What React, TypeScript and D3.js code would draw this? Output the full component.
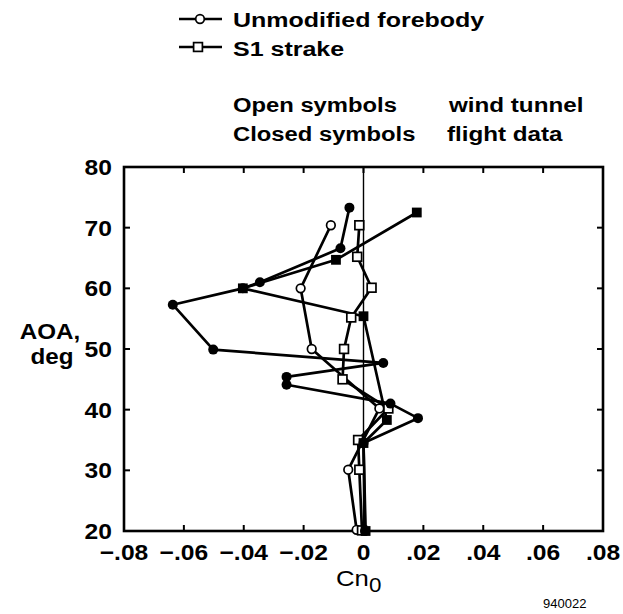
import React from "react";
import * as d3 from "d3";

// Yawing moment coefficient Cn0 versus angle of attack (deg)
type Pt = [number, number];

const unmodifiedFlight: Pt[] = [
  [-0.0047, 73.3], [-0.0077, 66.6], [-0.0346, 61.0], [-0.0403, 60.0],
  [-0.0637, 57.3], [-0.0502, 49.9], [0.0066, 47.7], [-0.0257, 45.4],
  [-0.0257, 44.1], [0.009, 41.0], [0.0182, 38.6], [0.0, 34.5], [0.0005, 20.0],
];
const strakeFlight: Pt[] = [
  [0.0178, 72.5], [-0.0092, 64.7], [-0.0403, 60.0], [0.0, 55.4],
  [0.0078, 38.3], [0.0, 34.5], [0.0007, 20.0],
];
const unmodifiedTunnel: Pt[] = [
  [-0.0109, 70.4], [-0.021, 60.0], [-0.0173, 50.0], [0.0053, 40.2],
  [-0.0051, 30.1], [-0.0023, 20.2],
];
const strakeTunnel: Pt[] = [
  [-0.0014, 70.4], [-0.0021, 65.2], [0.0027, 60.1], [-0.0041, 55.2],
  [-0.0065, 50.0], [-0.007, 45.0], [0.0083, 40.2], [-0.0018, 35.0],
  [-0.0014, 30.1], [-0.0005, 20.1],
];

const xTicks = [-0.08, -0.06, -0.04, -0.02, 0, 0.02, 0.04, 0.06, 0.08];
const xTickLabels = ["\u2212.08", "\u2212.06", "\u2212.04", "\u2212.02", "0", ".02", ".04", ".06", ".08"];
const yTicks = [20, 30, 40, 50, 60, 70, 80];

const FONT = "'Liberation Sans', Arial, Helvetica, sans-serif";

const x = d3.scaleLinear().domain([-0.08, 0.08]).range([124, 603]);
const y = d3.scaleLinear().domain([20, 80]).range([531, 167]);
const line = d3.line<Pt>().x((d) => x(d[0])).y((d) => y(d[1]));

function Wide(props: {
  x: number; y: number; size: number; sx?: number; anchor?: string;
  weight?: string | number; children: React.ReactNode;
}) {
  const { sx = 1.15, anchor = "start", weight = "bold" } = props;
  return (
    <g transform={`translate(${props.x},${props.y}) scale(${sx},1)`}>
      <text x={0} y={0} fontFamily={FONT} fontSize={props.size} fontWeight={weight}
        textAnchor={anchor} fill="#000">
        {props.children}
      </text>
    </g>
  );
}

function OpenCircle({ cx, cy }: { cx: number; cy: number }) {
  return <circle cx={cx} cy={cy} r={4.3} fill="#fff" stroke="#000" strokeWidth={1.7} />;
}
function ClosedCircle({ cx, cy }: { cx: number; cy: number }) {
  return <circle cx={cx} cy={cy} r={5} fill="#000" />;
}
function OpenSquare({ cx, cy }: { cx: number; cy: number }) {
  return <rect x={cx - 4.4} y={cy - 4.4} width={8.8} height={8.8} fill="#fff" stroke="#000" strokeWidth={1.7} />;
}
function ClosedSquare({ cx, cy }: { cx: number; cy: number }) {
  return <rect x={cx - 4.9} y={cy - 4.9} width={9.8} height={9.8} fill="#000" />;
}

export default function App() {
  const [x0, x1] = x.range();
  const [y0, y1] = y.range();
  const tickLen = 6;
  const series = [unmodifiedFlight, strakeFlight, unmodifiedTunnel, strakeTunnel];

  return (
    <svg width={623} height={614} style={{ position: "absolute", left: 0, top: 0, background: "#fff" }}>
      <rect width={623} height={614} fill="#fff" />

      {/* legend */}
      <line x1={179} x2={222} y1={19} y2={19} stroke="#000" strokeWidth={2.6} />
      <OpenCircle cx={200} cy={19} />
      <line x1={179} x2={222} y1={47} y2={47} stroke="#000" strokeWidth={2.6} />
      <OpenSquare cx={198} cy={47} />
      <Wide x={233} y={27} size={20} sx={1.25}>Unmodified forebody</Wide>
      <Wide x={233} y={56} size={20} sx={1.25}>S1 strake</Wide>
      <Wide x={233} y={112} size={20} sx={1.19}>Open symbols</Wide>
      <Wide x={449} y={112} size={20} sx={1.21}>wind tunnel</Wide>
      <Wide x={233} y={141} size={20} sx={1.19}>Closed symbols</Wide>
      <Wide x={447} y={141} size={20} sx={1.21}>flight data</Wide>

      {/* frame */}
      <rect x={x0} y={y1} width={x1 - x0} height={y0 - y1} fill="none" stroke="#000" strokeWidth={2.6} />
      <line x1={x(0)} x2={x(0)} y1={y1} y2={y0} stroke="#000" strokeWidth={1.4} />

      {/* ticks */}
      {xTicks.slice(1, -1).map((t) => (
        <g key={`xt${t}`}>
          <line x1={x(t)} x2={x(t)} y1={y0} y2={y0 - tickLen} stroke="#000" strokeWidth={2} />
          <line x1={x(t)} x2={x(t)} y1={y1} y2={y1 + tickLen} stroke="#000" strokeWidth={2} />
        </g>
      ))}
      {yTicks.slice(1, -1).map((t) => (
        <g key={`yt${t}`}>
          <line x1={x0} x2={x0 + tickLen} y1={y(t)} y2={y(t)} stroke="#000" strokeWidth={2} />
          <line x1={x1} x2={x1 - tickLen} y1={y(t)} y2={y(t)} stroke="#000" strokeWidth={2} />
        </g>
      ))}

      {/* tick labels */}
      {xTicks.map((t, i) => (
        <Wide key={`xl${t}`} x={x(t)} y={560} size={22} sx={1.12} anchor="middle">{xTickLabels[i]}</Wide>
      ))}
      {yTicks.map((t) => (
        <Wide key={`yl${t}`} x={112} y={y(t) + 8} size={22} sx={1.12} anchor="end">{String(t)}</Wide>
      ))}

      {/* axis titles */}
      <Wide x={50} y={339} size={22} sx={1.1} anchor="middle">AOA,</Wide>
      <Wide x={52} y={364} size={22} sx={1.1} anchor="middle">deg</Wide>
      <g transform="translate(336,586) scale(1.12,1)">
        <text fontFamily={FONT} fontSize={23} fontWeight={500} fill="#000">
          Cn<tspan dy={6} fontSize={20}>0</tspan>
        </text>
      </g>
      <text x={543} y={608} fontFamily={FONT} fontSize={13} fill="#000">940022</text>

      {/* series lines */}
      {series.map((s, i) => (
        <path key={`s${i}`} d={line(s) ?? ""} fill="none" stroke="#000" strokeWidth={2.7} strokeLinejoin="round" />
      ))}

      {/* markers */}
      {unmodifiedTunnel.map((d, i) => <OpenCircle key={`uc${i}`} cx={x(d[0])} cy={y(d[1])} />)}
      {strakeTunnel.map((d, i) => <OpenSquare key={`us${i}`} cx={x(d[0])} cy={y(d[1])} />)}
      {strakeFlight.map((d, i) => <ClosedSquare key={`fs${i}`} cx={x(d[0])} cy={y(d[1])} />)}
      {unmodifiedFlight.map((d, i) => <ClosedCircle key={`fc${i}`} cx={x(d[0])} cy={y(d[1])} />)}
    </svg>
  );
}
